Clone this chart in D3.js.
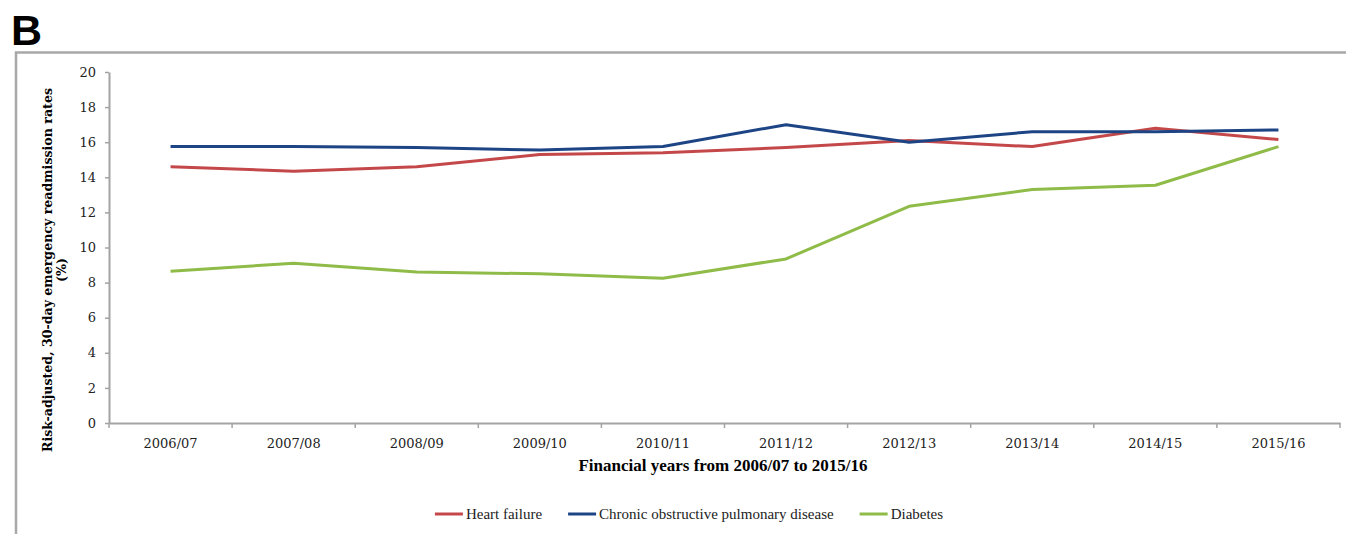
<!DOCTYPE html>
<html>
<head>
<meta charset="utf-8">
<script src="https://cdn.jsdelivr.net/npm/d3@7"></script>
<style>
  html, body { margin: 0; padding: 0; background: #fff; }
  svg { display: block; }
</style>
</head>
<body>
<svg id="chart" width="1346" height="534"></svg>
<script>
const categories = ["2006/07","2007/08","2008/09","2009/10","2010/11","2011/12","2012/13","2013/14","2014/15","2015/16"];
const heartFailure = [14.6, 14.35, 14.6, 15.3, 15.4, 15.7, 16.1, 15.75, 16.8, 16.15];
const copd = [15.75, 15.75, 15.7, 15.55, 15.75, 17.0, 16.0, 16.6, 16.6, 16.7];
const diabetes = [8.65, 9.1, 8.6, 8.5, 8.25, 9.35, 12.35, 13.3, 13.55, 15.75];
const yTicks = [0, 2, 4, 6, 8, 10, 12, 14, 16, 18, 20];
const seriesNames = ["Heart failure", "Chronic obstructive pulmonary disease", "Diabetes"];
const seriesColors = ["#c4484a", "#1d4585", "#8fbb48"];
const seriesData = [heartFailure, copd, diabetes];

const svg = d3.select("#chart");
const axisColor = "#a3a3a3";

// Panel letter
svg.append("text").attr("x", 11).attr("y", 45)
  .attr("font-family", "Liberation Sans, Arial, sans-serif")
  .attr("font-weight", "bold").attr("font-size", 43).attr("fill", "#000")
  .text("B");

// Frame
svg.append("path").attr("d", "M16,560 L16,52.5 L1360,52.5")
  .attr("fill", "none").attr("stroke", "#a8a8a8").attr("stroke-width", 2.5);

const x = d3.scaleBand().domain(categories).range([109, 1340]).padding(0);
const y = d3.scaleLinear().domain([0, 20]).range([423, 72]);

// Y axis
const yAxis = d3.axisLeft(y).tickValues(yTicks).tickSize(4).tickSizeOuter(0).tickPadding(9);
const gy = svg.append("g").attr("transform", "translate(109,0)").call(yAxis);
gy.select(".domain").attr("stroke", axisColor).attr("stroke-width", 2);
gy.selectAll(".tick line").attr("stroke", axisColor).attr("stroke-width", 1.5);
gy.selectAll(".tick text").attr("font-family", "DejaVu Serif, serif").attr("font-size", 13).attr("fill", "#222");

// X axis
const xAxis = d3.axisBottom(x).tickSize(0).tickSizeOuter(0).tickPadding(16);
const gx = svg.append("g").attr("transform", "translate(0,423)").call(xAxis);
gx.select(".domain").attr("stroke", axisColor).attr("stroke-width", 2);
gx.selectAll(".tick text").attr("font-family", "DejaVu Serif, serif").attr("font-size", 13).attr("fill", "#222");
// category boundary ticks
const boundaries = categories.map(c => x(c)).concat([x.range()[1]]);
gx.selectAll("line.bnd").data(boundaries).enter().append("line")
  .attr("class", "bnd")
  .attr("x1", d => d).attr("x2", d => d).attr("y1", 0).attr("y2", 5)
  .attr("stroke", axisColor).attr("stroke-width", 1.5);

// Lines
const line = d3.line()
  .x((d, i) => x(categories[i]) + x.bandwidth() / 2)
  .y(d => y(d));
seriesData.forEach((s, k) => {
  svg.append("path").datum(s)
    .attr("fill", "none").attr("stroke", seriesColors[k])
    .attr("stroke-width", 3).attr("stroke-linejoin", "round")
    .attr("d", line);
});

// Y axis title
const yt = svg.append("text")
  .attr("transform", "translate(52,270) rotate(-90)")
  .attr("text-anchor", "middle")
  .attr("font-family", "DejaVu Serif, serif").attr("font-weight", "bold")
  .attr("font-size", 12.6).attr("fill", "#000");
yt.append("tspan").attr("x", 0).attr("y", 0).text("Risk-adjusted, 30-day emergency readmission rates");
yt.append("tspan").attr("x", 0).attr("y", 14).text("(%)");

// X axis title
svg.append("text").attr("x", 723).attr("y", 471).attr("text-anchor", "middle")
  .attr("font-family", "Liberation Serif, serif").attr("font-weight", "bold")
  .attr("font-size", 17).attr("fill", "#000")
  .text("Financial years from 2006/07 to 2015/16");

// Legend
const leg = svg.append("g");
let cx = 0;
seriesNames.forEach((n, k) => {
  const g = leg.append("g").attr("transform", `translate(${cx},0)`);
  g.append("line").attr("x1", 0).attr("x2", 28).attr("y1", 0).attr("y2", 0)
    .attr("stroke", seriesColors[k]).attr("stroke-width", 3);
  const t = g.append("text").attr("x", 31).attr("y", 5)
    .attr("font-family", "Liberation Serif, serif").attr("font-size", 15).attr("fill", "#222")
    .text(n);
  const w = t.node().getComputedTextLength();
  cx += 31 + w + 26;
});
const total = cx - 26;
leg.attr("transform", `translate(${689 - total / 2},514)`);
</script>
</body>
</html>
